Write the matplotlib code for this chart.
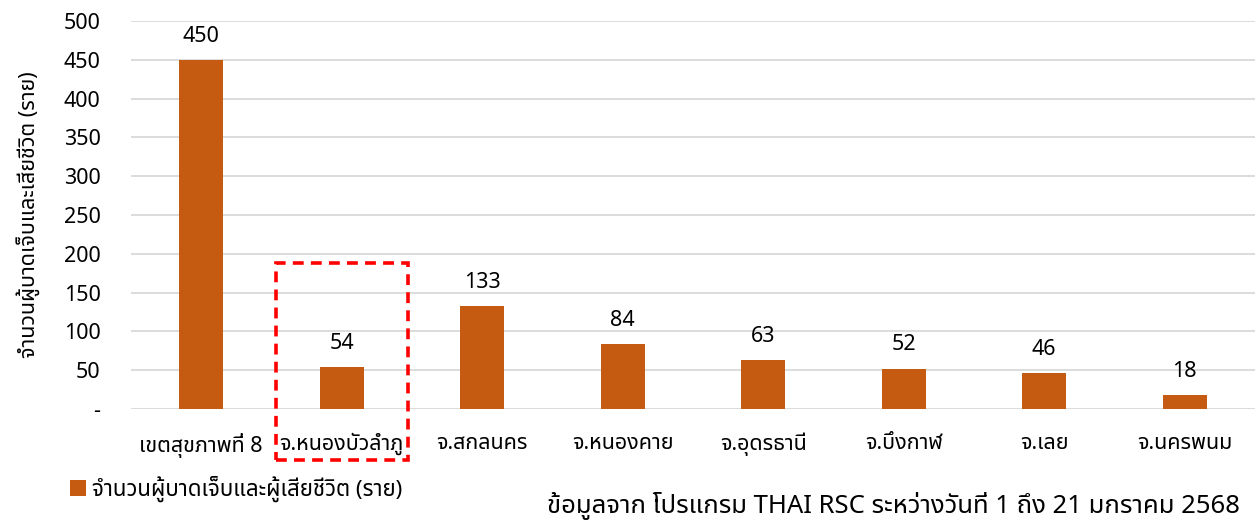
import matplotlib
matplotlib.use('Agg')
import matplotlib.pyplot as plt
from matplotlib import font_manager
from matplotlib.patches import Rectangle
import numpy as np

categories = ['เขตสุขภาพที่ 8', 'จ.หนองบัวลำภู', 'จ.สกลนคร', 'จ.หนองคาย',
              'จ.อุดรธานี', 'จ.บึงกาฬ', 'จ.เลย', 'จ.นครพนม']
values = [450, 54, 133, 84, 63, 52, 46, 18]
yticks = [0, 50, 100, 150, 200, 250, 300, 350, 400, 450, 500]
ytick_labels = ['-'] + [str(v) for v in yticks[1:]]
series_name = 'จำนวนผู้บาดเจ็บและผู้เสียชีวิต (ราย)'
ylabel = 'จำนวนผู้บาดเจ็บและเสียชีวิต (ราย)'
source = 'ข้อมูลจาก โปรแกรม THAI RSC ระหว่างวันที่ 1 ถึง 21 มกราคม 2568'
highlight = 1  # index of boxed category


# find an installed font that has Thai glyphs
def thai_font():
    try:
        from fontTools.ttLib import TTFont
    except ImportError:
        return None
    found = []
    for f in font_manager.fontManager.ttflist:
        try:
            tt = TTFont(f.fname, fontNumber=0, lazy=True)
            cmap = tt.getBestCmap()
            if cmap and 0x0E01 in cmap and 0x0E33 in cmap:
                found.append(f.name)
        except Exception:
            continue
    if not found:
        return None
    for pref in ['Noto Sans Thai', 'Noto Sans Thai UI', 'Kanit', 'Prompt',
                 'Sarabun', 'Loma', 'Garuda', 'Tlwg Typist']:
        if pref in found:
            return pref
    return found[0]


fam = thai_font()
plt.rcParams['font.family'] = ([fam] if fam else []) + ['DejaVu Sans']

bar_color = '#c55a11'
grid_color = '#d9d9d9'

fig = plt.figure(figsize=(12.55, 5.26), dpi=100)
ax = fig.add_axes([131 / 1255, 117 / 526, 1124 / 1255, 388 / 526])

x = np.arange(len(categories))
bars = ax.bar(x, values, width=0.315, color=bar_color, zorder=3,
              label=series_name)
for xi, v in zip(x, values):
    ax.text(xi, v + 17, str(v), ha='center', va='bottom', fontsize=15.5,
            color='#000000')

ax.set_xlim(-0.5, len(categories) - 0.5)
ax.set_ylim(0, 500)
ax.set_yticks(yticks)
ax.set_yticklabels(ytick_labels, fontsize=15.5)
ax.set_xticks(x)
ax.set_xticklabels(categories, fontsize=15.5)
ax.tick_params(axis='both', length=0)
ax.tick_params(axis='y', pad=22)
ax.tick_params(axis='x', pad=17)
ax.grid(axis='y', color=grid_color, linewidth=1.3, zorder=0)
for s in ax.spines.values():
    s.set_visible(False)

ax.set_ylabel(ylabel, fontsize=15.5, labelpad=17)

# red dashed box around the highlighted province
box = Rectangle((highlight - 0.47, -66), 0.94, 254, fill=False,
                edgecolor='#ff0000', linewidth=2.6, linestyle=(0, (3, 2)),
                clip_on=False, zorder=5)
ax.add_patch(box)

fig.legend(handles=[bars], labels=[series_name], loc='center left',
           bbox_to_anchor=(50 / 1255, 1 - 489 / 526), frameon=False,
           fontsize=16, handlelength=0.7, handleheight=0.7,
           handletextpad=0.3)

fig.text(1240 / 1255, 1 - 506 / 526, source, ha='right', va='center',
         fontsize=18.5)

fig.savefig('out.png', dpi=100)
